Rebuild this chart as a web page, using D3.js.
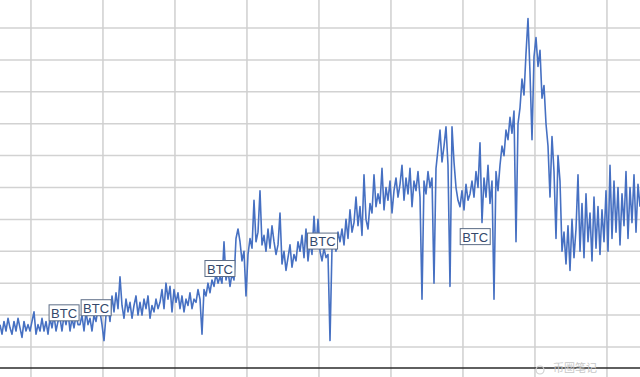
<!DOCTYPE html>
<html><head><meta charset="utf-8">
<script src="https://cdn.jsdelivr.net/npm/d3@7"></script>
<style>html,body{margin:0;padding:0;background:#fff;overflow:hidden}</style>
</head><body><svg id="c" width="640" height="377"></svg>
<script>
// series sampled evenly, 36 samples per grid period, starting at period -0.43
const startPeriod = -0.43;
const samplesPerPeriod = 36;
const values = [
 7, 4, 8, 5, 9, 6, 4, 8, 5, 9,
 6, 3, 8, 5, 7, 5, 8, 11, 4, 7,
 5, 9, 5, 8, 4, 9, 6, 10, 5, 8,
 9, 5, 10, 7, 11, 5, 9, 6, 10, 7,
 7, 10, 5, 11, 7, 9, 5, 10, 8, 12,
 11, 7, 2, 10, 13, 8, 16, 11, 17, 12,
 22, 13, 9, 15, 11, 14, 9, 13, 16, 10,
 14, 10, 15, 12, 16, 9, 13, 11, 15, 12,
 14, 18, 12, 20, 15, 19, 11, 18, 14, 17,
 12, 16, 11, 15, 13, 17, 12, 15, 14, 18,
 15, 4, 18, 16, 20, 17, 21, 19, 23, 20,
 22, 20, 33, 21, 24, 19, 23, 21, 34, 37,
 33, 27, 30, 16, 29, 34, 31, 46, 33, 36,
 49, 32, 35, 30, 37, 31, 38, 33, 29, 32,
 42, 26, 30, 24, 28, 32, 25, 29, 27, 33,
 30, 35, 28, 37, 27, 33, 29, 41, 31, 40,
 30, 27, 31, 28, 29, 2, 31, 34, 30, 36,
 33, 37, 32, 40, 34, 43, 36, 39, 47, 38,
 44, 35, 54, 40, 37, 45, 42, 54, 44, 48,
 45, 56, 43, 50, 46, 52, 42, 49, 53, 47,
 51, 57, 46, 53, 48, 56, 44, 52, 49, 55,
 47, 15, 52, 48, 55, 50, 53, 20, 56, 62,
 68, 58, 63, 69, 57, 19, 69, 58, 50, 46,
 44, 49, 43, 51, 46, 48, 52, 47, 55, 50,
 64, 39, 53, 47, 57, 45, 52, 15, 55, 49,
 57, 63, 60, 68, 65, 72, 67, 74, 33, 70,
 75, 84, 79, 92, 103, 86, 65, 91, 97, 88,
 93, 78, 82, 70, 63, 47, 66, 55, 34, 60,
 52, 30, 36, 26, 38, 24, 40, 28, 37, 54,
 30, 45, 28, 48, 33, 42, 27, 47, 31, 44,
 29, 43, 33, 49, 30, 57, 34, 52, 36, 50,
 32, 48, 38, 55, 34, 50, 39, 54, 36, 51, 44
];
const xTicks = [0, 1, 2, 3, 4, 5, 6, 7, 8];
const yTicks = [0, 10, 20, 30, 40, 50, 60, 70, 80, 90, 100];
const labelNames = ["BTC", "BTC", "BTC", "BTC", "BTC"];
const labelT = [0.46, 0.905, 2.625, 4.05, 6.17];
const labelV = [10.7, 12.3, 24.6, 33.2, 34.6];
const watermark = "币圈笔记";

const W = 640, H = 377;
const svg = d3.select("#c");
const x = d3.scaleLinear().domain([startPeriod, startPeriod + (values.length - 1) / samplesPerPeriod]).range([0, W]);
const y = d3.scaleLinear().domain([-6.6, 108.8]).range([368, 0]);

const data = values.map((v, i) => ({t: startPeriod + i / samplesPerPeriod, v}));

// grid
svg.append("g").selectAll("line").data(yTicks).join("line")
  .attr("x1", 0).attr("x2", W)
  .attr("y1", d => y(d)).attr("y2", d => y(d))
  .attr("stroke", "#d2d2d2").attr("stroke-width", 1.5);
svg.append("g").selectAll("line").data(xTicks).join("line")
  .attr("x1", d => x(d)).attr("x2", d => x(d))
  .attr("y1", 0).attr("y2", H)
  .attr("stroke", "#cfcfcf").attr("stroke-width", 1.5);

// axis baseline
svg.append("line").attr("x1", 0).attr("x2", W)
  .attr("y1", y(-6.6)).attr("y2", y(-6.6))
  .attr("stroke", "#2a2a2a").attr("stroke-width", 1.5);

// series
svg.append("path").datum(data)
  .attr("fill", "none").attr("stroke", "#4670c2").attr("stroke-width", 1.6)
  .attr("stroke-linejoin", "round")
  .attr("d", d3.line().x(d => x(d.t)).y(d => y(d.v)));

// labels
const lab = svg.append("g").selectAll("g").data(labelNames.map((n, i) => ({n, t: labelT[i], v: labelV[i]})))
  .join("g").attr("transform", d => `translate(${x(d.t)},${y(d.v)})`);
lab.append("rect").attr("x", -15).attr("y", -8).attr("width", 30).attr("height", 16)
  .attr("fill", "#fff").attr("stroke", "#5d6d86").attr("stroke-width", 1);
lab.append("text").text(d => d.n).attr("text-anchor", "middle").attr("y", 5)
  .attr("font-family", "Liberation Sans, Arial, sans-serif").attr("font-size", 13)
  .attr("fill", "#34486b");

// watermark
svg.append("text").text(watermark).attr("x", 553).attr("y", 372)
  .attr("font-family", "Noto Sans CJK SC, sans-serif").attr("font-size", 11)
  .attr("fill", "#c8c8c8");
svg.append("circle").attr("cx", 540).attr("cy", 370).attr("r", 4)
  .attr("fill", "none").attr("stroke", "#d0d0d0").attr("stroke-width", 1.2);
</script>
</body></html>
